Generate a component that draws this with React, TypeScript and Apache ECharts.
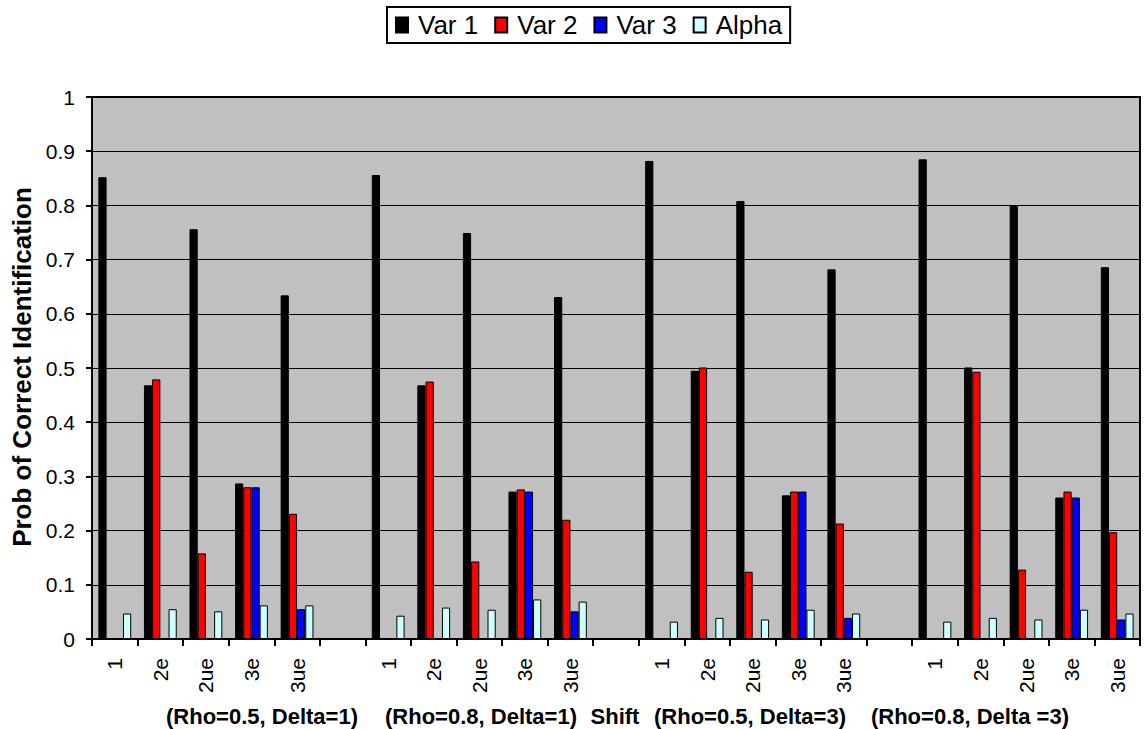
import { useEffect, useRef } from 'react';
import * as echarts from 'echarts';

// Scenario categories (blank slots separate the four parameter groups)
const categories = [
  '1', '2e', '2ue', '3e', '3ue', '',
  '1', '2e', '2ue', '3e', '3ue', '',
  '1', '2e', '2ue', '3e', '3ue', '',
  '1', '2e', '2ue', '3e', '3ue',
];

const var1 = [
  0.852, 0.468, 0.756, 0.287, 0.634, null,
  0.856, 0.468, 0.749, 0.272, 0.631, null,
  0.882, 0.495, 0.808, 0.265, 0.682, null,
  0.885, 0.501, 0.8, 0.261, 0.686,
];
const var2 = [
  null, 0.479, 0.158, 0.28, 0.231, null,
  null, 0.475, 0.143, 0.276, 0.22, null,
  null, 0.501, 0.124, 0.272, 0.213, null,
  null, 0.493, 0.128, 0.272, 0.197,
];
const var3 = [
  null, null, null, 0.28, 0.055, null,
  null, null, null, 0.272, 0.051, null,
  null, null, null, 0.272, 0.039, null,
  null, null, null, 0.261, 0.036,
];
const alpha = [
  0.047, 0.055, 0.051, 0.062, 0.062, null,
  0.043, 0.058, 0.054, 0.073, 0.069, null,
  0.032, 0.039, 0.036, 0.054, 0.047, null,
  0.032, 0.039, 0.036, 0.054, 0.047,
];

const seriesNames = ['Var 1', 'Var 2', 'Var 3', 'Alpha'];
const seriesColors = ['#000000', '#FF0000', '#0000FF', '#CCFFFF'];

const groupLabels = [
  '(Rho=0.5, Delta=1)',
  '(Rho=0.8, Delta=1)',
  'Shift',
  '(Rho=0.5, Delta=3)',
  '(Rho=0.8, Delta =3)',
];
const groupLabelCenters = [262, 481, 615, 750, 970];

const yTitle = 'Prob of Correct Identification';

const FONT = '"Liberation Sans", Arial, Helvetica, sans-serif';

export default function App() {
  const ref = useRef<HTMLDivElement>(null);

  useEffect(() => {
    if (!ref.current) return;
    const chart = echarts.init(ref.current, null, { renderer: 'svg' });
    const values = [var1, var2, var3, alpha];

    chart.setOption({
      animation: false,
      backgroundColor: '#ffffff',
      textStyle: { fontFamily: FONT, color: '#000' },
      legend: {
        data: seriesNames,
        left: 387,
        top: 7,
        orient: 'horizontal',
        icon: 'rect',
        itemWidth: 12,
        itemHeight: 15,
        itemGap: 16,
        padding: [5, 8, 5, 8],
        borderColor: '#000',
        borderWidth: 2,
        backgroundColor: '#ffffff',
        textStyle: {
          fontFamily: FONT,
          fontSize: 26,
          color: '#000',
          padding: [0, 0, 0, 5],
        },
      },
      grid: {
        left: 92,
        top: 97,
        width: 1048,
        height: 542,
        show: true,
        backgroundColor: '#C0C0C0',
        borderColor: '#000',
        borderWidth: 2,
      },
      xAxis: {
        type: 'category',
        data: categories,
        boundaryGap: true,
        axisLine: { show: true, lineStyle: { color: '#000', width: 2 } },
        axisTick: {
          show: true,
          alignWithLabel: false,
          interval: 0,
          length: 7,
          lineStyle: { color: '#000', width: 2 },
        },
        axisLabel: {
          interval: 0,
          rotate: 90,
          margin: 19,
          fontFamily: FONT,
          fontSize: 21,
          color: '#000',
        },
        splitLine: { show: false },
      },
      yAxis: {
        type: 'value',
        min: 0,
        max: 1,
        interval: 0.1,
        axisLine: { show: true, lineStyle: { color: '#000', width: 2 } },
        axisTick: { show: true, length: 6, lineStyle: { color: '#000', width: 2 } },
        axisLabel: {
          margin: 17,
          fontFamily: FONT,
          fontSize: 21,
          color: '#000',
        },
        splitLine: { show: true, lineStyle: { color: '#000', width: 1 } },
      },
      graphic: [
        {
          type: 'text',
          x: 22,
          y: 367,
          rotation: Math.PI / 2,
          style: {
            text: yTitle,
            fontFamily: FONT,
            fontSize: 26,
            fontWeight: 'bold',
            fill: '#000',
            align: 'center',
            verticalAlign: 'middle',
          },
        },
        ...groupLabels.map((t, i) => ({
          type: 'text',
          x: groupLabelCenters[i],
          y: 716,
          style: {
            text: t,
            fontFamily: FONT,
            fontSize: 22,
            fontWeight: 'bold',
            fill: '#000',
            align: 'center',
            verticalAlign: 'middle',
          },
        })),
      ],
      series: seriesNames.map((name, i) => ({
        name,
        type: 'bar',
        data: values[i],
        barWidth: 8.2,
        barGap: '0%',
        itemStyle: {
          color: seriesColors[i],
          borderColor: '#000',
          borderWidth: 1,
        },
      })),
    });

    return () => chart.dispose();
  }, []);

  return (
    <div
      ref={ref}
      style={{ position: 'absolute', left: 0, top: 0, width: 1144, height: 729, background: '#fff' }}
    />
  );
}
